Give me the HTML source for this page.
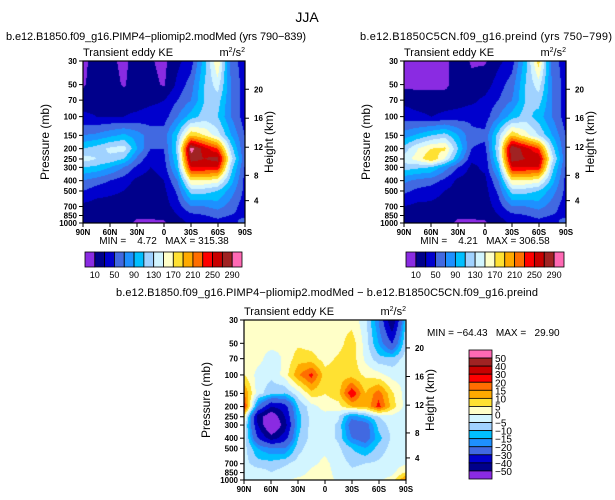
<!DOCTYPE html>
<html><head><meta charset="utf-8">
<style>
body{margin:0;background:#fff;width:615px;height:500px;overflow:hidden;position:relative;font-family:"Liberation Sans",sans-serif}
canvas{position:absolute}
svg{position:absolute;left:0;top:0}
text{white-space:pre}
</style></head>
<body>
<canvas id="c1" width="162" height="162" style="left:83px;top:61px"></canvas>
<canvas id="c2" width="162" height="162" style="left:404px;top:61px"></canvas>
<canvas id="c3" width="162" height="160" style="left:244px;top:320px"></canvas>
<svg id="s" width="615" height="500"></svg>
<script>
const lats=["90N","75N","60N","45N","30N","15N","0","15S","30S","45S","60S","75S","90S"];
const levs=[30,50,70,100,150,200,250,300,400,500,700,850,1000];
const ke1=[
[5,20,15,5,20,12,5,25,40,100,170,60,40],
[8,20,18,8,20,15,8,35,60,110,140,70,40],
[20,20,20,20,20,25,30,50,70,110,120,70,40],
[35,30,30,30,35,40,40,70,100,120,110,70,40],
[70,75,85,95,80,60,60,110,190,170,140,90,50],
[110,120,135,140,90,50,50,120,300,260,230,120,50],
[140,130,125,110,65,35,45,110,280,270,280,140,55],
[110,105,90,70,45,30,40,100,250,250,250,120,50],
[70,60,50,40,25,20,30,70,170,170,160,100,45],
[50,40,35,30,20,18,25,55,120,120,110,80,45],
[25,20,20,20,15,15,20,40,70,70,80,60,40],
[15,15,15,15,12,12,15,30,45,50,55,50,45],
[15,15,15,15,8,8,8,20,35,40,45,40,60]];
const ke2=[
[5,5,5,5,20,8,8,25,40,100,180,60,40],
[5,5,5,5,20,15,20,40,60,110,140,70,40],
[25,20,20,20,20,25,35,50,70,110,120,70,40],
[40,35,30,35,40,45,40,70,100,120,100,70,40],
[80,95,110,120,90,55,55,120,190,160,130,90,50],
[120,150,170,175,110,50,45,130,290,260,230,120,50],
[140,160,190,150,90,35,35,120,280,270,270,140,55],
[120,115,110,80,50,25,35,100,250,250,250,120,50],
[75,65,60,45,25,20,25,70,170,170,160,100,45],
[55,45,40,30,20,18,22,55,120,120,110,80,45],
[30,25,25,20,15,15,18,40,70,70,80,60,40],
[15,12,20,15,12,12,15,30,45,50,55,50,45],
[15,15,15,15,8,8,8,20,35,40,45,40,60]];
const diff=[
[2,2,2,2,3,2,2,3,3,-3,-20,-50,-10],
[2,2,2,1,4,3,2,3,8,-2,-15,-30,-5],
[2,2,-3,1,8,7,3,6,8,-1,-8,-8,-3],
[5,-2,-4,2,14,22,7,8,8,4,2,-2,-2],
[15,-3,-8,-10,-2,8,5,8,25,10,18,6,-2],
[22,-20,-40,-35,-10,-2,2,3,10,10,22,8,-2],
[5,-45,-60,-40,-12,-3,-2,-4,-18,-12,-5,-2,-4],
[-2,-40,-65,-45,-12,-3,-2,-6,-25,-25,-8,-3,-3],
[-2,-30,-45,-35,-10,-3,-2,-6,-20,-25,-12,-4,-2],
[-3,-15,-20,-20,-7,-2,-1,-4,-10,-15,-8,-3,-2],
[-3,-8,-8,-6,-3,-1,1,-2,-6,-5,-4,-2,-1],
[-2,-2,-5,-3,-2,1,2,-2,-4,-3,-3,-2,5],
[-2,-2,-2,-1,1,1,2,-1,-3,-2,-1,2,15]];
const keBounds=[10,30,50,70,90,110,130,150,170,190,210,230,250,270,290];
const keLabels=["10","50","90","130","170","210","250","290"];
const diffBounds=[-50,-40,-30,-20,-15,-10,-5,0,5,10,15,20,30,40,50];
const pTicks=[30,50,70,100,150,200,250,300,400,500,700,850,1000];
const zTicks=[4,8,12,16,20];
const zPress=[616.4,356.5,193.9,103.5,55.3];
const latTicks=["90N","60N","30N","0","30S","60S","90S"];
const cols=["#8a2be2","#00008b","#0000cd","#4169e1","#1e90ff","#00bfff","#a0d2ff","#d2f5ff","#ffffc8","#ffe132","#ffaa00","#ff6e00","#ff0000","#c80000","#a02323","#ff69b4"];
const L=Math.log(1000/30);
function hex(c){return [parseInt(c.substr(1,2),16),parseInt(c.substr(3,2),16),parseInt(c.substr(5,2),16)];}
const rgb=cols.map(hex);
function drawField(id,grid,bounds){
  const cv=document.getElementById(id),ctx=cv.getContext('2d'),w=cv.width,h=cv.height;
  const img=ctx.createImageData(w,h);
  const lp=levs.map(Math.log);
  for(let py=0;py<h;py++){
    const lnp=Math.log(30)+py/(h-1)*L;
    let i=0;while(i<levs.length-2&&lnp>lp[i+1])i++;
    const t=Math.min(1,Math.max(0,(lnp-lp[i])/(lp[i+1]-lp[i])));
    for(let px=0;px<w;px++){
      const fx=px/(w-1)*(lats.length-1);let j=Math.min(lats.length-2,Math.floor(fx));const s=fx-j;
      const v=(1-t)*((1-s)*grid[i][j]+s*grid[i][j+1])+t*((1-s)*grid[i+1][j]+s*grid[i+1][j+1]);
      let k=0;while(k<bounds.length&&v>=bounds[k])k++;
      const c=rgb[k],o=(py*w+px)*4;img.data[o]=c[0];img.data[o+1]=c[1];img.data[o+2]=c[2];img.data[o+3]=255;
    }
  }
  ctx.putImageData(img,0,0);
}
drawField('c1',ke1,keBounds);drawField('c2',ke2,keBounds);drawField('c3',diff,diffBounds);
const S=document.getElementById('s');const NS="http://www.w3.org/2000/svg";
function el(tag,attrs,txt){const e=document.createElementNS(NS,tag);for(const k in attrs)e.setAttribute(k,attrs[k]);if(txt!==undefined)e.textContent=txt;S.appendChild(e);return e;}
function text(x,y,s,size,anchor,name,extra){const e=el('text',Object.assign({x:x,y:y,'font-size':size,'text-anchor':anchor||'start',fill:'#000'},extra||{}),s);

return e;}
function axes(x0,y0,w,h,pref){
  const yOf=p=>y0+Math.log(p/30)/L*h;
  const r=el('rect',{x:x0,y:y0,width:w,height:h,fill:'none',stroke:'#000','stroke-width':1.2});
  
  
  pTicks.forEach(p=>{const y=yOf(p);el('line',{x1:x0-4,x2:x0,y1:y,y2:y,stroke:'#000'});
    text(x0-6,y+3,String(p),8,'end',pref+'-pressure-tick',{'font-weight':'bold'});});
  zTicks.forEach((z,i)=>{const y=yOf(zPress[i]);el('line',{x1:x0+w,x2:x0+w+4,y1:y,y2:y,stroke:'#000'});
    text(x0+w+9,y+3,String(z),8,'start',pref+'-height-tick',{'font-weight':'bold'});});
  latTicks.forEach((l,i)=>{const x=x0+i*w/6;el('line',{x1:x,x2:x,y1:y0+h,y2:y0+h+4,stroke:'#000'});
    text(x,y0+h+12,l,8,'middle',pref+'-lat-tick',{'font-weight':'bold'});});
  text(x0-34,y0+h/2,'Pressure (mb)',12,'middle',pref+'-y-axis-title',{transform:`rotate(-90 ${x0-34} ${y0+h/2})`});
  text(x0+w+28,y0+h/2,'Height (km)',12,'middle',pref+'-right-axis-title',{transform:`rotate(-90 ${x0+w+28} ${y0+h/2})`});
  text(x0,y0-5,'Transient eddy KE',11,'start',pref+'-left-string');
  const u=text(x0+w,y0-5,'',11,'end',pref+'-units');
  u.innerHTML='m<tspan dy="-4" font-size="7">2</tspan><tspan dy="4">/s</tspan><tspan dy="-4" font-size="7">2</tspan>';
}
axes(83,61,162,162,'plot1');axes(404,61,162,162,'plot2');axes(244,320,162,160,'diff');
text(307,22,'JJA',14,'middle','main-title');
text(6,40,'b.e12.B1850.f09_g16.PIMP4\u2212pliomip2.modMed (yrs 790\u2212839)',11,'start','plot1-title',{textLength:300});
text(360,40,'b.e12.B1850C5CN.f09_g16.preind (yrs 750\u2212799)',11,'start','plot2-title',{textLength:252});
text(116,296,'b.e12.B1850.f09_g16.PIMP4\u2212pliomip2.modMed \u2212 b.e12.B1850C5CN.f09_g16.preind',11,'start','diff-title',{textLength:422});
text(164,244,'MIN =    4.72   MAX = 315.38',10,'middle','plot1-minmax');
text(485,244,'MIN =    4.21   MAX = 306.58',10,'middle','plot2-minmax');
text(427,336,'MIN = \u221264.43   MAX =   29.90',10,'start','diff-minmax');
function hbar(x0,y0,w,h,pref){const bw=w/16;
  cols.forEach((c,i)=>{const r=el('rect',{x:x0+i*bw,y:y0,width:bw,height:h,fill:c,stroke:'#000','stroke-width':0.8});
    
    });
  keLabels.forEach((l,i)=>text(x0+(2*i+1)*bw,y0+h+11,l,9,'middle',pref+'-colorbar-label'));
}
hbar(85,252,157,15,'plot1');hbar(406,252,158,15,'plot2');
(function(){const x0=469,y0=350,w=23,h=129,bh=h/16;
  cols.slice().reverse().forEach((c,i)=>{const r=el('rect',{x:x0,y:y0+i*bh,width:w,height:bh,fill:c,stroke:'#000','stroke-width':0.8});
    
    });
  diffBounds.slice().reverse().forEach((b,i)=>text(x0+w+3,y0+(i+1)*bh+4,String(b).replace('-','\u2212'),10,'start','diff-colorbar-label'));
})();
</script>
</body></html>
